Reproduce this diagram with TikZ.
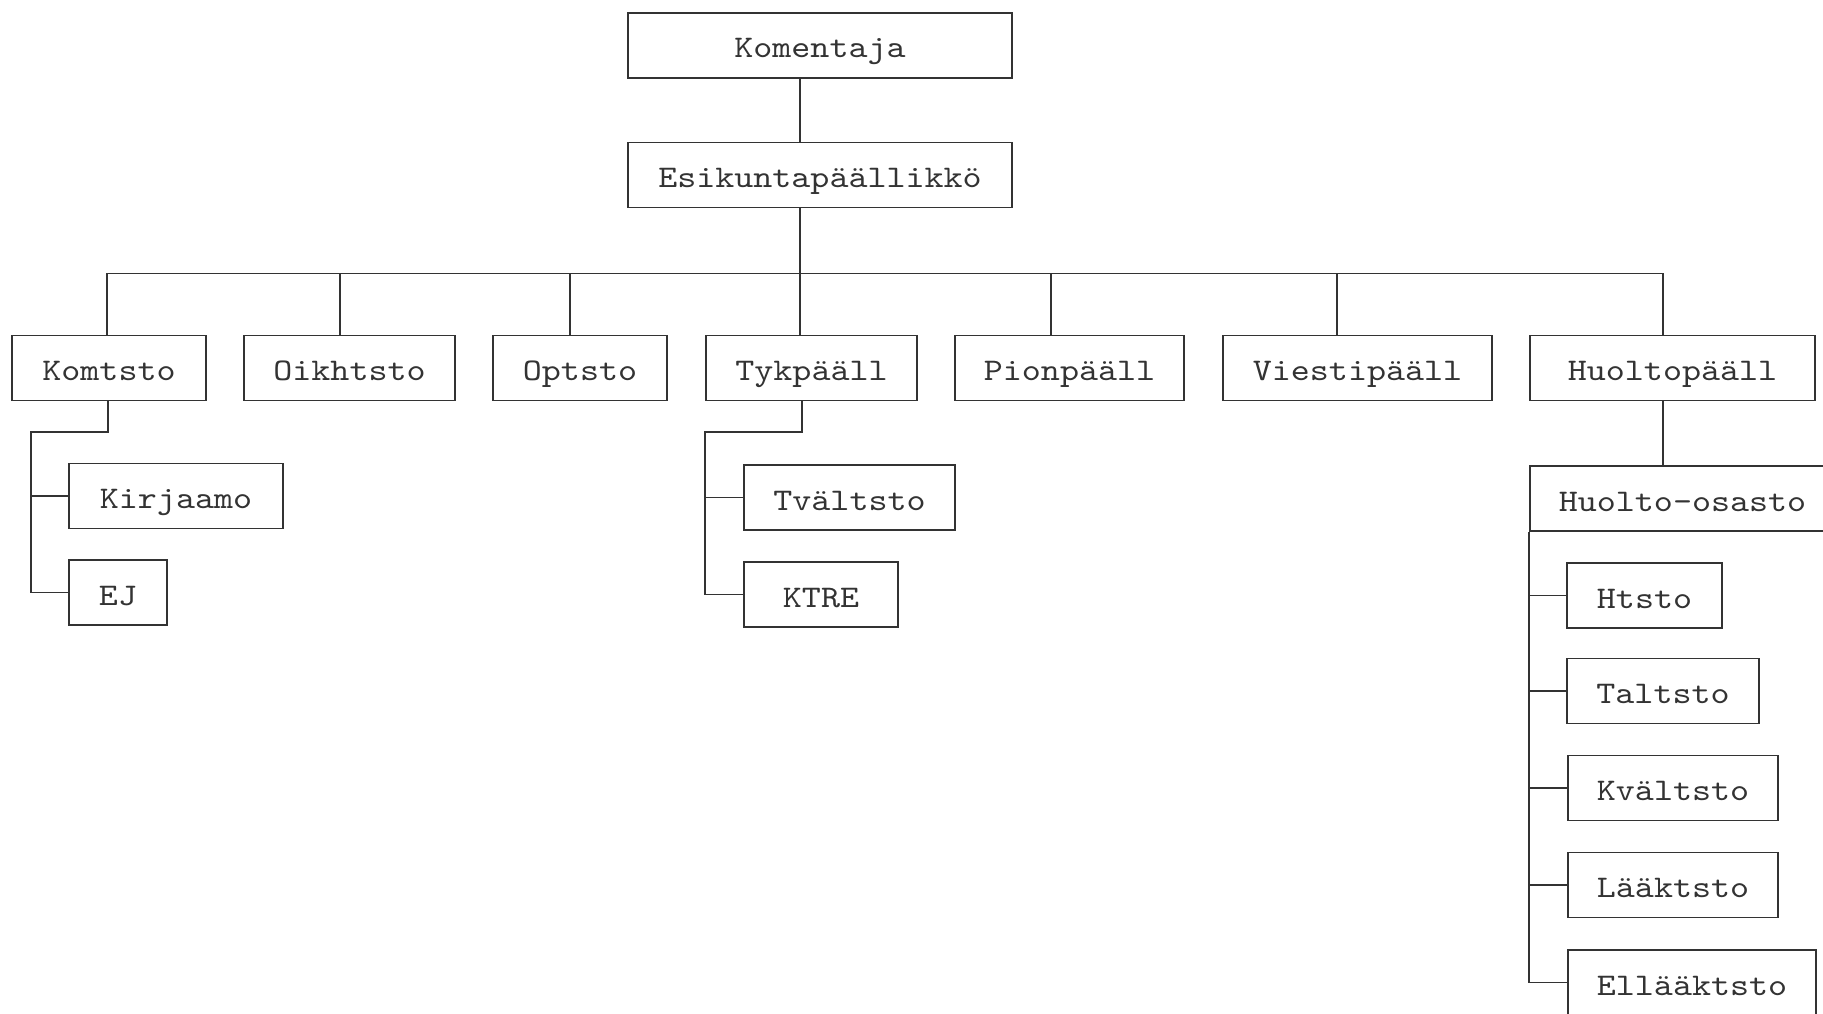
\documentclass[tikz,border=0pt]{standalone}
\usepackage{fontspec}
\setmonofont{lmmono10-regular.otf}[FakeStretch=1.15]
\usetikzlibrary{calc}
\tikzset{box/.style={draw,inner sep=0pt,minimum height=65,text height=25pt,text depth=0pt,
  font=\ttfamily\fontsize{31.5}{36}\selectfont}}
\begin{document}
\begin{tikzpicture}[x=1pt,y=-1pt,line width=1.8pt,color=black!80]
\useasboundingbox (0,0) rectangle (1823,1014);
\clip (0,0) rectangle (1823,1014);
\node[box,minimum width=384] (komentaja) at (820,45.5) {Komentaja};
\node[box,minimum width=384] (esik) at (820,175) {Esikuntapäällikkö};
\foreach \n/\t/\x/\w in {komtsto/Komtsto/109/194,oik/Oikhtsto/349.5/211,opt/Optsto/580/174,
  tyk/Tykpääll/811.5/211,pion/Pionpääll/1069.5/229,viesti/Viestipääll/1357.5/269,
  huolto/Huoltopääll/1672.5/285}
\node[box,minimum width=\w] (\n) at (\x,368) {\t};
\draw ($(komentaja.south)+(-20,0)$) -- ($(esik.north)+(-20,0)$);
\coordinate (bus) at ($(esik.south)+(-20,65)$);
\draw ($(esik.south)+(-20,0)$) -- (bus);
\foreach \n/\d in {komtsto/-2,oik/-9.5,opt/-10,tyk/-11.5,pion/-18.5,viesti/-20.5,huolto/-9.5}
\draw ($(\n.north)+(\d,0)$) |- (bus);
%%%%
\node[box,minimum width=214] (kirjaamo) at (176,496) {Kirjaamo};
\node[box,minimum width=98] (ej) at (118,592.5) {EJ};
\coordinate (kspine) at (31,432);
\draw ($(komtsto.south)+(-1,0)$) |- (kspine) |- (ej.west);
\draw (kirjaamo.west) -- (kirjaamo.west -| kspine);
%%%%
\node[box,minimum width=211] (tvaltsto) at (849.5,497.5) {Tvältsto};
\node[box,minimum width=154] (ktre) at (821,594.5) {KTRE};
\coordinate (tspine) at (705,432);
\draw ($(tyk.south)+(-9.5,0)$) |- (tspine) |- (ktre.west);
\draw (tvaltsto.west) -- (tvaltsto.west -| tspine);
%%%%
\node[box,minimum width=305] (huoltoos) at (1682.5,498.5) {Huolto-osasto};
\draw ($(huolto.south)+(-9.5,0)$) -- ($(huoltoos.north)+(-19.5,0)$);
\node[box,minimum width=155] (htsto) at (1644.5,595.5) {Htsto};
\node[box,minimum width=192] (taltsto) at (1663,691) {Taltsto};
\node[box,minimum width=210] (kvaltsto) at (1673,788) {Kvältsto};
\node[box,minimum width=210] (laaktsto) at (1673,885) {Lääktsto};
\node[box,minimum width=248] (ellaak) at (1692,982.5) {Ellääktsto};
\draw (huoltoos.south west) |- (ellaak.west);
\foreach \n in {htsto,taltsto,kvaltsto,laaktsto}
\draw (\n.west) -- (\n.west -| huoltoos.west);
\end{tikzpicture}
\end{document}
